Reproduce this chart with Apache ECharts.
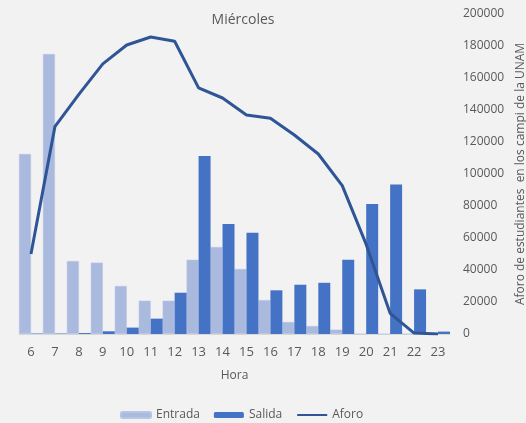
<!DOCTYPE html>
<html>
<head>
<meta charset="utf-8">
<script src="https://cdn.jsdelivr.net/npm/echarts@6/dist/echarts.min.js"></script>
<style>
html,body{margin:0;padding:0;background:#f2f2f2;}
#chart{width:526px;height:423px;}
</style>
</head>
<body>
<div id="chart"></div>
<script>
const horas = ['6','7','8','9','10','11','12','13','14','15','16','17','18','19','20','21','22','23'];
const entrada = [112500,175000,45600,44600,30000,20800,20800,46400,54400,40600,21200,7500,5000,2700,0,0,0,0];
const salida = [300,300,600,1700,4000,9600,25800,111200,68800,63300,27300,30800,32000,46400,81200,93500,27900,1500];
const aforo = [50000,129600,149800,168800,180600,185600,183000,153800,147500,136900,134800,124400,112500,92700,56000,12900,600,0];

const chart = echarts.init(document.getElementById('chart'), null, {renderer:'canvas'});
const txt = '#595959';
const font = 'Open Sans';
chart.setOption({
  backgroundColor:'#f2f2f2',
  animation:false,
  title:{text:'Miércoles', left:238, top:8, textAlign:'center',
    textStyle:{fontFamily:font, fontSize:14, fontWeight:'normal', color:txt}},
  legend:{top:404, left:115, itemWidth:30, itemHeight:6, itemGap:14,
    textStyle:{fontFamily:font, fontSize:12, color:txt},
    data:['Entrada','Salida',{name:'Aforo', itemStyle:{opacity:0}}]},
  grid:{left:19, right:76, top:14, bottom:89, containLabel:false, outerBoundsMode:'none'},
  xAxis:{type:'category', data:horas, boundaryGap:true,
    name:'Hora', nameLocation:'middle', nameGap:36,
    nameTextStyle:{fontFamily:font, fontSize:12, color:txt},
    axisLine:{lineStyle:{color:'#d9d9d9', width:1}},
    axisTick:{show:false},
    axisLabel:{fontFamily:font, fontSize:13, color:txt, margin:12}},
  yAxis:{type:'value', position:'right', min:0, max:200000, interval:20000,
    name:'Aforo de estudiantes  en los campi de la UNAM', nameLocation:'middle', nameGap:63, nameRotate:90,
    nameTextStyle:{fontFamily:font, fontSize:12, color:txt},
    axisLine:{show:false}, axisTick:{show:false}, splitLine:{show:false},
    axisLabel:{fontFamily:font, fontSize:12, color:txt, margin:13, align:'left',
      formatter:function(v){return String(v);}}},
  series:[
    {name:'Entrada', type:'bar', data:entrada, barGap:'0%', barCategoryGap:'0%',
      itemStyle:{color:'#aabadf', borderColor:'#b8c5e4', borderWidth:0.5}},
    {name:'Salida', type:'bar', data:salida, barGap:'0%', barCategoryGap:'0%',
      itemStyle:{color:'#4472c4'}},
    {name:'Aforo', type:'line', data:aforo, symbol:'none', z:5,
      lineStyle:{color:'#2f5597', width:3}, itemStyle:{color:'#2f5597'}}
  ]
});
</script>
</body>
</html>
